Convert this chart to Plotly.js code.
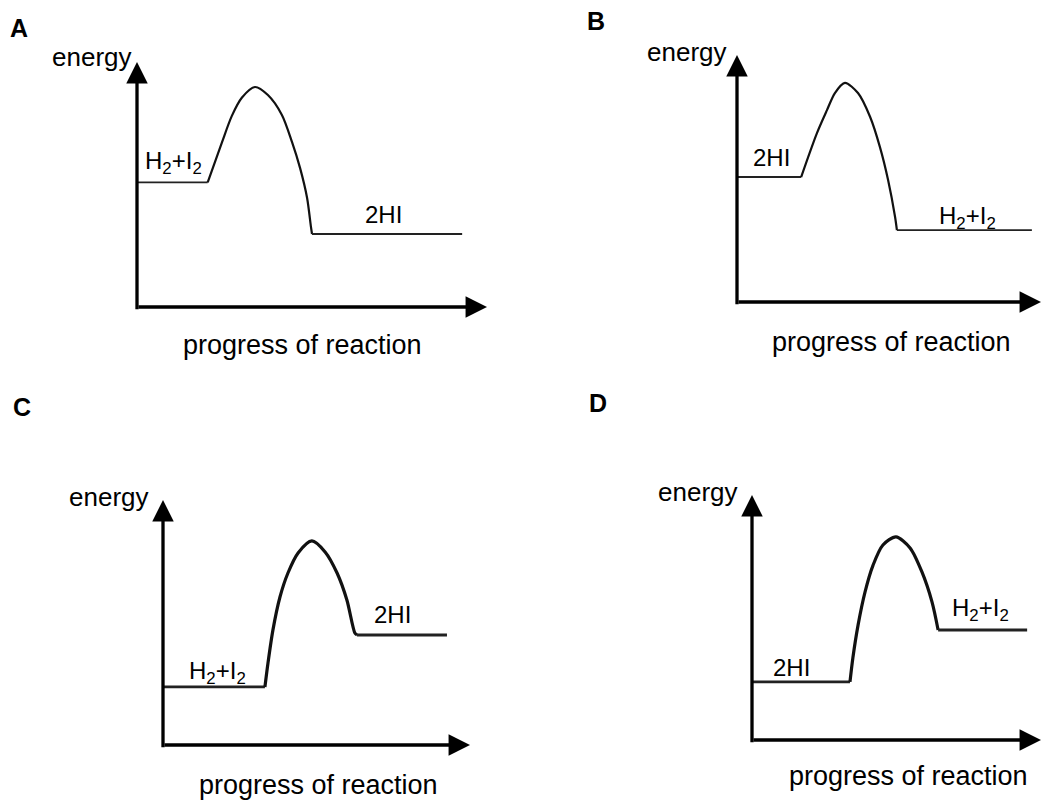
<!DOCTYPE html>
<html>
<head>
<meta charset="utf-8">
<script src="https://cdn.plot.ly/plotly-3.0.1.min.js"></script>
<style>html,body{margin:0;padding:0;background:#fff;}#chart{width:1041px;height:800px;}</style>
</head>
<body>
<div id="chart"></div>
<script>
// ---- data (axis units: 0 = origin, 10 = arrow tip) ----
const panelLetters = ['A', 'B', 'C', 'D'];
const reactantNames = ['H<sub>2</sub>+I<sub>2</sub>', '2HI', 'H<sub>2</sub>+I<sub>2</sub>', '2HI'];
const productNames = ['2HI', 'H<sub>2</sub>+I<sub>2</sub>', '2HI', 'H<sub>2</sub>+I<sub>2</sub>'];
const yAxisLabel = 'energy';
const xAxisLabel = 'progress of reaction';

const reactantLevel = [5.09, 5.06, 2.37, 2.37];
const productLevel = [2.98, 2.91, 4.49, 4.49];
const reactantEnd = [2.02, 2.11, 3.32, 3.39];
const productStart = [5.00, 5.26, 6.32, 6.44];
const productEnd = [9.29, 9.70, 9.25, 9.52];

const humpAx = [2.02, 2.43, 2.71, 3.00, 3.37, 3.74, 4.14, 4.43, 4.66, 4.86, 4.97, 5.00];
const humpAy = [5.09, 6.73, 7.80, 8.55, 8.98, 8.65, 7.84, 6.73, 5.67, 4.45, 3.27, 2.98];
const humpBx = [2.11, 2.63, 2.96, 3.22, 3.55, 3.98, 4.38, 4.70, 4.97, 5.20, 5.26];
const humpBy = [5.06, 6.84, 7.77, 8.46, 8.87, 8.46, 7.49, 6.28, 4.94, 3.44, 2.91];
const humpCx = [3.32, 3.42, 3.58, 3.81, 4.07, 4.40, 4.85, 5.28, 5.67, 5.99, 6.25, 6.32];
const humpCy = [2.37, 3.35, 4.69, 6.04, 7.02, 7.84, 8.33, 7.88, 7.02, 5.92, 4.57, 4.49];
const humpDx = [3.39, 3.49, 3.67, 3.91, 4.19, 4.53, 4.98, 5.47, 5.88, 6.23, 6.44];
const humpDy = [2.37, 3.35, 4.69, 6.04, 7.14, 7.96, 8.29, 7.84, 6.86, 5.63, 4.49];

// label positions in axis units
const reactantLabelX = [1.03, 1.12, 1.76, 1.38];
const reactantLabelY = [5.88, 5.87, 2.94, 2.94];
const productLabelX = [7.03, 7.57, 7.46, 7.92];
const productLabelY = [3.76, 3.44, 5.31, 5.31];

const humpsX = [humpAx, humpBx, humpCx, humpDx];
const humpsY = [humpAy, humpBy, humpCy, humpDy];

// ---- layout geometry (pixels of the 1041x800 page) ----
const W = 1041, H = 800;
const geom = [
  {x0: 137, x1: 487, y0: 307, y1: 62, letter: [19, 28], energy: [92, 57], prog: [302, 345], lw: 1.8, hw: 2.2},
  {x0: 737, x1: 1041, y0: 302, y1: 55, letter: [596, 21], energy: [687, 52], prog: [891, 342], lw: 1.8, hw: 2.2},
  {x0: 163, x1: 470, y0: 745, y1: 500, letter: [22, 407], energy: [109, 497], prog: [318, 785], lw: 2.8, hw: 3.2},
  {x0: 752, x1: 1041, y0: 740, y1: 495, letter: [598, 403], energy: [698, 492], prog: [908, 776], lw: 2.8, hw: 3.2}
];

const font = 'Liberation Sans, Arial, Helvetica, sans-serif';
const traces = [];
const annotations = [];
const layout = {
  width: W, height: H,
  margin: {l: 0, r: 0, t: 0, b: 0},
  paper_bgcolor: '#ffffff', plot_bgcolor: 'rgba(0,0,0,0)',
  showlegend: false,
  font: {family: font, color: '#000'}
};

geom.forEach((g, i) => {
  const n = i === 0 ? '' : String(i + 1);
  const xr = 'x' + n, yr = 'y' + n;
  const axCommon = {range: [0, 10], visible: false, fixedrange: true, showgrid: false, zeroline: false};
  layout['xaxis' + n] = Object.assign({}, axCommon, {domain: [g.x0 / W, Math.min(1, g.x1 / W)], anchor: yr});
  layout['yaxis' + n] = Object.assign({}, axCommon, {domain: [1 - g.y0 / H, 1 - g.y1 / H], anchor: xr});

  // reactant plateau
  traces.push({x: [0, reactantEnd[i]], y: [reactantLevel[i], reactantLevel[i]], xaxis: xr, yaxis: yr,
    mode: 'lines', line: {color: '#222', width: g.lw}, hoverinfo: 'skip', cliponaxis: false});
  // hump
  traces.push({x: humpsX[i], y: humpsY[i], xaxis: xr, yaxis: yr,
    mode: 'lines', line: {color: '#111', width: g.hw, shape: 'spline', smoothing: 0.8}, hoverinfo: 'skip', cliponaxis: false});
  // product plateau
  traces.push({x: [productStart[i], productEnd[i]], y: [productLevel[i], productLevel[i]], xaxis: xr, yaxis: yr,
    mode: 'lines', line: {color: '#222', width: g.lw}, hoverinfo: 'skip', cliponaxis: false});

  // axis arrows
  const arrowBase = {xref: xr, yref: yr, axref: xr, ayref: yr, text: '', showarrow: true,
    arrowhead: 2, arrowsize: 1.3, arrowwidth: 3.3, arrowcolor: '#000', standoff: 0};
  annotations.push(Object.assign({}, arrowBase, {x: 10, y: 0, ax: 0, ay: 0}));
  annotations.push(Object.assign({}, arrowBase, {x: 0, y: 10, ax: 0, ay: -0.15}));

  // level labels
  annotations.push({xref: xr, yref: yr, x: reactantLabelX[i], y: reactantLabelY[i], text: reactantNames[i],
    showarrow: false, xanchor: 'center', yanchor: 'middle', font: {size: 24, family: font, color: '#000'}});
  annotations.push({xref: xr, yref: yr, x: productLabelX[i], y: productLabelY[i], text: productNames[i],
    showarrow: false, xanchor: 'center', yanchor: 'middle', font: {size: 24, family: font, color: '#000'}});

  // panel letter
  annotations.push({xref: 'paper', yref: 'paper', x: g.letter[0] / W, y: 1 - g.letter[1] / H, text: '<b>' + panelLetters[i] + '</b>',
    showarrow: false, xanchor: 'center', yanchor: 'middle', font: {size: 25, family: font, color: '#000'}});
  // axis labels
  annotations.push({xref: 'paper', yref: 'paper', x: g.energy[0] / W, y: 1 - g.energy[1] / H, text: yAxisLabel,
    showarrow: false, xanchor: 'center', yanchor: 'middle', font: {size: 26, family: font, color: '#000'}});
  annotations.push({xref: 'paper', yref: 'paper', x: g.prog[0] / W, y: 1 - g.prog[1] / H, text: xAxisLabel,
    showarrow: false, xanchor: 'center', yanchor: 'middle', font: {size: 27, family: font, color: '#000'}});
});

layout.annotations = annotations;
Plotly.newPlot('chart', traces, layout, {displayModeBar: false, staticPlot: true});
</script>
</body>
</html>
